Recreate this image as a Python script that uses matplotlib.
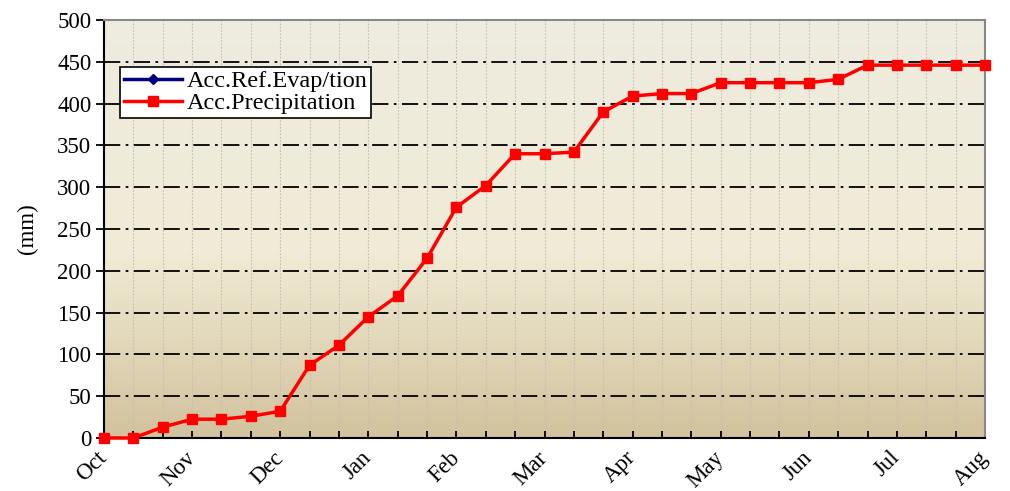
import matplotlib
matplotlib.use('Agg')
import matplotlib.pyplot as plt
import numpy as np
from matplotlib.colors import LinearSegmentedColormap

# 10-day periods, Oct -> Aug
months = ['Oct', 'Nov', 'Dec', 'Jan', 'Feb', 'Mar', 'Apr', 'May', 'Jun', 'Jul', 'Aug']
acc_precip = [0, 0, 13, 22.5, 22.5, 26, 32, 87, 111, 145, 170, 215, 276, 302, 340,
              340, 342, 390, 409, 412, 412, 425, 425, 425, 425, 429, 446, 446, 446, 446, 446]
acc_evap = [0]

plt.rcParams['font.family'] = ['Liberation Serif', 'DejaVu Serif']

fig = plt.figure(figsize=(10.1, 4.91), dpi=100)
ax = fig.add_axes([104/1010, 1-438/491, 881/1010, 418/491])

n = len(acc_precip)
x = np.arange(n)

# background gradient (light top, tan bottom)
cmap = LinearSegmentedColormap.from_list('bg', [(0.0, '#d2c29d'), (0.45, '#f1ecd6'),
                                                (1.0, '#eeebe0')])
grad = np.linspace(0, 1, 256).reshape(-1, 1)
ax.imshow(grad, aspect='auto', cmap=cmap, origin='lower',
          extent=[0, n-1, 0, 500], zorder=0)

# grid
for xi in x[1:-1]:
    ax.axvline(xi, color='#c4c0b2', lw=0.8, ls=(0, (1.5, 1.5)), zorder=1)
for yv in range(50, 500, 50):
    ax.axhline(yv, color='black', lw=1.3, ls=(0, (9, 3, 1.5, 3)), zorder=1)

ax.plot(x[:len(acc_evap)], acc_evap, color='#00007f', lw=2.5, marker='D', ms=5,
        label='Acc.Ref.Evap/tion', zorder=3)
ax.plot(x, acc_precip, color='#ff0000', lw=2.5, marker='s', ms=7,
        label='Acc.Precipitation', zorder=4, clip_on=False)

ax.set_xlim(0, n-1)
ax.set_ylim(0, 500)
ax.set_yticks(range(0, 501, 50))
ax.set_xticks(x[::3])
ax.set_xticklabels(months, rotation=45, ha='right', va='center', rotation_mode='anchor')
ax.set_xticks(x, minor=True)
ax.tick_params(axis='x', which='both', direction='in', length=5, width=1.3, pad=12,
               labelsize=16.5)
ax.tick_params(axis='y', direction='out', length=6, width=1.3, labelsize=16.5, pad=3)

for s in ['left', 'bottom']:
    ax.spines[s].set_color('black')
    ax.spines[s].set_linewidth(1.5)
for s in ['top', 'right']:
    ax.spines[s].set_color('#888888')
    ax.spines[s].set_linewidth(1.5)

ax.set_ylabel('(mm)', fontsize=16.5, labelpad=14)

leg = ax.legend(loc='upper left', bbox_to_anchor=(0.018, 0.888), fontsize=17.5,
                frameon=True, fancybox=False, framealpha=1, edgecolor='black',
                borderpad=0.15, labelspacing=0.0, handlelength=2.4, handletextpad=0.2,
                borderaxespad=0)
leg.get_frame().set_linewidth(1.2)

fig.savefig('out.png', dpi=100)
